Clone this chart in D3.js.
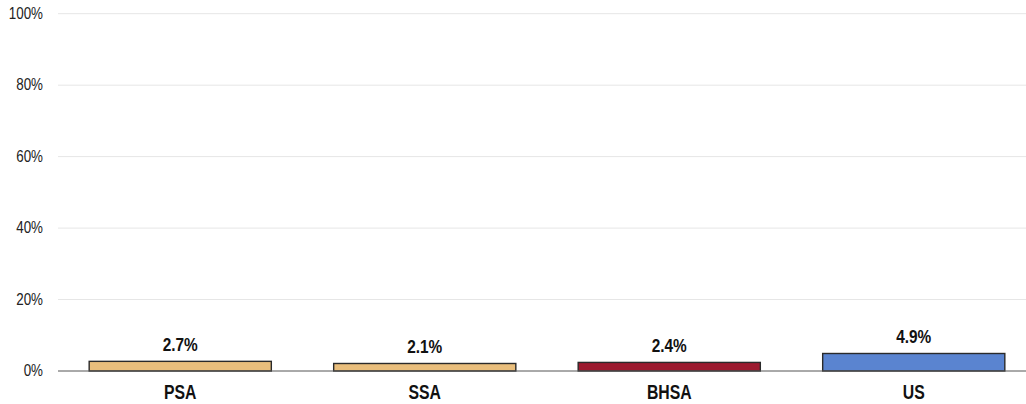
<!DOCTYPE html>
<html><head><meta charset="utf-8">
<script src="https://cdn.jsdelivr.net/npm/d3@7"></script>
<style>body{margin:0;background:#fff}svg{display:block}</style>
</head><body><svg id="c" width="1026" height="404"></svg>
<script>
const categories = ["PSA","SSA","BHSA","US"];
const values = [2.7, 2.1, 2.4, 4.9];
const colors = ["#E9BE7C","#E9BE7C","#9C1A2F","#5A84D0"];
const yTicks = [0,20,40,60,80,100];

const svg = d3.select("#c");
const mLeft = 58, mRight = 1036, mTop = 13.7, mBottom = 371;
const sx = 0.81;
const font = "'Liberation Sans', Arial, sans-serif";
const x = d3.scaleBand().domain(categories).range([mLeft, mRight]).paddingInner(0.255).paddingOuter(0.1275);
const y = d3.scaleLinear().domain([0,100]).range([mBottom, mTop]);

svg.append("g").selectAll("line").data(yTicks.filter(d=>d>0)).join("line")
  .attr("x1", mLeft).attr("x2", 1026).attr("y1", d=>y(d)).attr("y2", d=>y(d))
  .attr("stroke", "#e6e6e6").attr("stroke-width", 1);

svg.append("g").selectAll("text").data(yTicks).join("text")
  .attr("transform", d=>`translate(43,${y(d)+5}) scale(${sx},1)`).attr("text-anchor","end")
  .attr("font-family",font)
  .attr("font-size", 16.5).attr("fill","#222").text(d=>d+"%");

svg.append("g").selectAll("rect").data(values).join("rect")
  .attr("x", (d,i)=>x(categories[i])).attr("width", x.bandwidth())
  .attr("y", d=>y(d)).attr("height", d=>y(0)-y(d))
  .attr("fill", (d,i)=>colors[i]).attr("stroke","#2a2a2a").attr("stroke-width",1.4);

svg.append("line").attr("x1", mLeft).attr("x2", 1026).attr("y1", y(0)).attr("y2", y(0))
  .attr("stroke","#555").attr("stroke-width",1);

svg.append("g").selectAll("text").data(values).join("text")
  .attr("transform", (d,i)=>`translate(${x(categories[i])+x.bandwidth()/2},${y(d)-10.6}) scale(${sx},1)`)
  .attr("text-anchor","middle").attr("font-weight","bold")
  .attr("font-family",font)
  .attr("font-size", 19).attr("fill","#111").text(d=>d.toFixed(1)+"%");

svg.append("g").selectAll("text").data(categories).join("text")
  .attr("transform", d=>`translate(${x(d)+x.bandwidth()/2},399.3) scale(${sx},1)`)
  .attr("text-anchor","middle").attr("font-weight","bold")
  .attr("font-family",font)
  .attr("font-size", 19.5).attr("fill","#111").text(d=>d);
</script></body></html>
